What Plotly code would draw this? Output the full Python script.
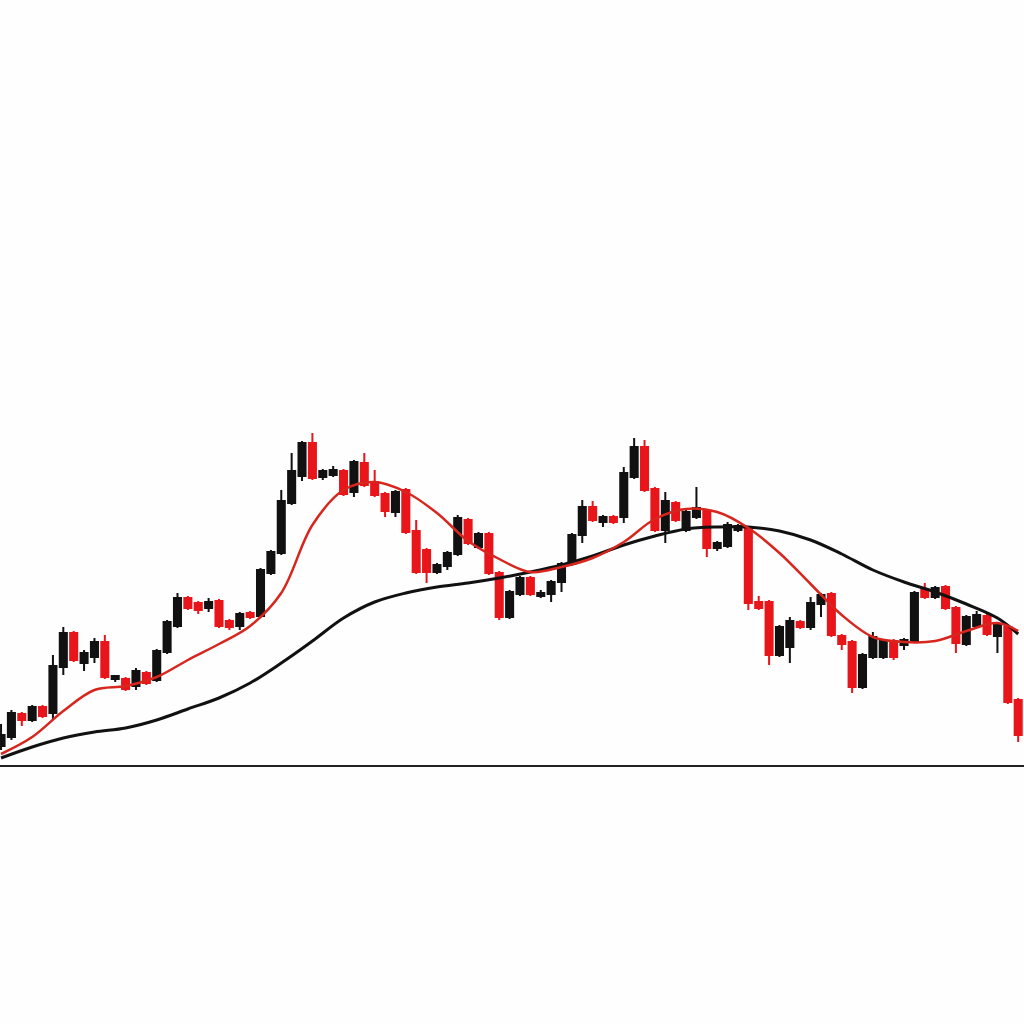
import plotly.graph_objects as go

idx = list(range(99))

open_ = [27, 31.5, 43, 40, 46.5, 43.5, 66.5, 83.5, 68.5, 71.5,
         79, 60.5, 60.5, 57, 63.5, 60, 74, 87, 101, 98.5,
         96, 99.5, 89.5, 87, 93.5, 92, 113.5, 123.5, 148.5, 162,
         178.5, 161.5, 162.5, 164.5, 154, 168.5, 159, 153, 144, 155,
         134.5, 125, 114, 117, 123, 140, 126.5, 133, 113.5, 91.5,
         103, 111, 102, 103, 109, 118, 132.5, 146.5, 139, 141.5,
         141.5, 161.5, 176.5, 155.5, 135, 148.5, 135, 141.5, 144.5, 126,
         127, 135, 136, 99, 99, 72.5, 76.5, 89, 86.5, 98,
         103, 82, 79, 56.5, 71.5, 71.5, 79.5, 77.5, 79.5, 105,
         101.5, 106.5, 96, 78, 87, 92, 82, 86.5, 50]
high = [38, 45, 44, 47.5, 47.5, 72.5, 86.5, 84.5, 75, 81,
        82.5, 62.5, 61.5, 66, 64.5, 75.5, 90, 103.5, 102, 99.5,
        101, 100.5, 90.5, 94, 94.5, 116, 125, 155, 173.5, 179.5,
        183.5, 165.5, 167, 165.5, 170, 173.5, 165, 154, 155, 156,
        140, 126, 118.5, 124.5, 142.5, 141, 134, 134, 114.5, 105,
        112, 112, 105, 110, 119, 133.5, 150, 149.5, 142.5, 142.5,
        166.5, 181, 180, 156.5, 154, 149.5, 145, 156.5, 145.5, 129.5,
        139, 138, 137, 102, 100, 87.5, 91.5, 90, 101.5, 103.5,
        104, 83, 80, 73.5, 84, 80.5, 80.5, 81, 104.5, 108.5,
        107, 107.5, 97, 92.5, 94.5, 93, 89, 87.5, 51]
low = [25, 30, 37, 39, 41, 40.5, 62.5, 69, 64.5, 68.5,
       60.5, 59, 54.5, 55, 57.5, 59, 73, 86, 95, 93,
       94, 86, 85, 85, 90.5, 91, 112.5, 122.5, 147.5, 159.5,
       160, 160, 161.5, 152, 151.5, 156.5, 151.5, 141.5, 141.5, 133,
       113, 108.5, 113, 115, 122, 127.5, 125.5, 112.5, 90, 90.5,
       102, 102, 101, 99, 104, 117, 128.5, 139, 136.5, 138,
       138.5, 160.5, 154, 134, 128.5, 139, 134, 140.5, 121.5, 124.5,
       126, 134, 95, 95, 67.5, 71.5, 68.5, 85.5, 85, 91.5,
       81.5, 75, 53.5, 55.5, 70.5, 70.5, 70, 75, 78.5, 100.5,
       100.5, 95, 73.5, 77, 86, 82, 73.5, 48, 29]
close = [32.5, 43.5, 40, 46.5, 42, 67, 83.5, 70, 73.5, 79,
         61.5, 62, 55.5, 64.5, 58.5, 74.5, 89, 101, 96, 95,
         99, 87, 86.5, 93, 91.5, 115, 124, 149.5, 164.5, 178.5,
         161, 164.5, 165, 153, 169, 157.5, 152.5, 144.5, 154, 134,
         114, 114, 117.5, 123.5, 141, 128.5, 133, 113.5, 91.5, 104,
         111, 103, 103.5, 109, 118, 132.5, 146.5, 140, 141.5, 139,
         163.5, 176.5, 155, 135, 149.5, 140, 144, 146, 126, 128.5,
         137.5, 137, 98.5, 96, 72.5, 86.5, 89.5, 86.5, 98.5, 102.5,
         82.5, 78, 56.5, 72.5, 81.5, 79.5, 71.5, 80, 103.5, 101.5,
         106, 96, 78.5, 91.5, 92.5, 83, 88, 49, 32.5]

ma_idx = [0, 3, 6, 9, 12, 15, 18, 21, 24, 27, 30, 33, 36, 39, 42, 45, 48,
          51, 54, 57, 60, 63, 66, 69, 72, 75, 78, 81, 84, 87, 90, 93, 96, 98]
ma_fast = [23, 31.5, 44.5, 55, 57, 61.5, 70, 78, 87, 103.5, 137.5, 155, 159,
           154, 143.5, 129.5, 120.5, 114, 116.5, 121, 129, 140.5, 145.5, 144,
           136, 123.5, 108, 92.5, 81.5, 79, 79.5, 84.5, 88.5, 84.5]
ma_slow = [21, 26.5, 31, 34, 36, 40, 45.5, 51, 58.5, 68.5, 79.5, 91, 99,
           103.5, 106.5, 108.5, 111, 114, 117.5, 122, 127.5, 132, 135.5, 136.5,
           136.5, 134.5, 130, 123, 115, 109, 104, 98, 91, 83]

RED = "#e8151b"
LINE_RED = "#d7261e"
BLACK = "#111111"

fig = go.Figure()
fig.add_trace(go.Scatter(x=ma_idx, y=ma_slow, mode="lines",
                         line=dict(color=BLACK, width=3, shape="spline"),
                         hoverinfo="skip", showlegend=False))
fig.add_trace(go.Scatter(x=ma_idx, y=ma_fast, mode="lines",
                         line=dict(color=LINE_RED, width=2.5, shape="spline"),
                         hoverinfo="skip", showlegend=False))
fig.add_trace(go.Candlestick(
    x=idx, open=open_, high=high, low=low, close=close,
    increasing=dict(line=dict(color=BLACK, width=2), fillcolor=BLACK),
    decreasing=dict(line=dict(color=RED, width=2), fillcolor=RED),
    whiskerwidth=0, showlegend=False))

fig.update_layout(
    width=1024, height=1024,
    margin=dict(l=0, r=0, t=0, b=259),
    paper_bgcolor="#fefefe", plot_bgcolor="#fefefe",
    showlegend=False,
    boxgap=0.15, boxgroupgap=0.2,
    xaxis=dict(range=[-0.1, 98.56], showgrid=False, zeroline=False,
               showticklabels=False, ticks="", showline=True,
               linecolor="#222222", linewidth=2,
               rangeslider=dict(visible=False)),
    yaxis=dict(range=[17.5, 400], showgrid=False, zeroline=False,
               showticklabels=False, ticks="", showline=False),
)

fig.write_html("out.html",
               config={"displayModeBar": False},
               post_script="document.body.style.margin='0px';")
